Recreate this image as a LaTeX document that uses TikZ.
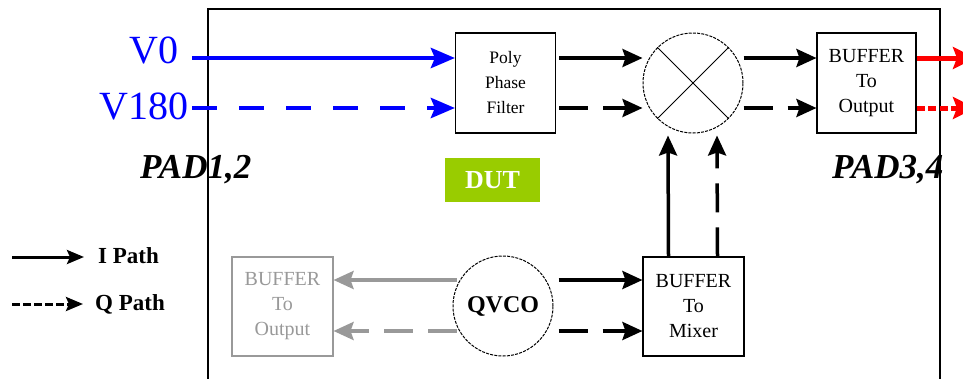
\documentclass[tikz,border=0pt]{standalone}
\usepackage{fontspec}
\setmainfont{Liberation Serif}
\usetikzlibrary{arrows.meta,calc}
\definecolor{dutgreen}{HTML}{99CC00}
\definecolor{grayc}{HTML}{999999}
\tikzset{
  blk/.style={draw, line width=1.1pt, minimum width=100pt, minimum height=100pt, inner sep=0pt, align=center, font=\fontsize{20}{25}\selectfont},
  circ/.style={draw, circle, line width=1pt, dash pattern=on 3pt off 1.2pt, minimum size=100pt, inner sep=0pt},
  tipbig/.style={-{Stealth[length=20pt,width=18pt,inset=3pt]}},
  sig/.style={line width=3.5pt, tipbig},
  qsig/.style={sig, dash pattern=on 29pt off 15pt},
  bsig/.style={line width=4.5pt, blue, -{Stealth[length=24pt,width=20pt,inset=4pt]}},
  bqsig/.style={bsig, dash pattern=on 25pt off 22pt},
  gsig/.style={line width=3.5pt, grayc, tipbig},
  gqsig/.style={gsig, dash pattern=on 29pt off 15pt},
  rsig/.style={line width=5pt, red, -{Stealth[length=22pt,width=22pt,inset=4pt]}},
  rqsig/.style={rsig, dash pattern=on 8pt off 3.5pt},
  lsig/.style={line width=3pt, -{Stealth[length=17pt,width=14pt,inset=3pt]}},
  lqsig/.style={lsig, dash pattern=on 8pt off 3pt},
  padtxt/.style={font=\fontsize{35}{35}\selectfont\bfseries\itshape, inner sep=0pt, anchor=base west},
  vtxt/.style={font=\fontsize{40}{40}\selectfont, text=blue, inner sep=0pt, anchor=east},
  legtxt/.style={font=\fontsize{23}{23}\selectfont\bfseries, inner sep=0pt, anchor=base west},
}
\begin{document}
\begin{tikzpicture}[x=1pt, y=-1pt]
\clip (0,0) rectangle (963,378);
\fill[white] (0,0) rectangle (963,378);
% DUT frame
\draw[line width=1.5pt] (208,380) -- (208,9) -- (940,9) -- (940,380);
% blocks
\node[blk, font=\fontsize{17.5}{25}\selectfont] (ppf) at (505.5,83) {Poly\\Phase\\Filter};
\node[circ] (mix) at (693,83) {};
\draw[line width=0.8pt] (mix.45) -- (mix.225) (mix.135) -- (mix.315);
\node[blk, minimum width=99pt] (bout) at (866.5,83) {BUFFER\\To\\Output};
\node[fill=dutgreen, minimum width=95pt, minimum height=44pt, inner sep=0pt, text=white, font=\fontsize{26}{26}\selectfont\bfseries] (dut) at (492.5,180) {DUT};
\node[circ, font=\fontsize{24}{24}\selectfont\bfseries] (qvco) at (503,306) {QVCO};
\node[blk, minimum width=101pt, minimum height=99pt] (bmix) at (693.5,306.5) {BUFFER\\To\\Mixer};
\node[blk, draw=grayc, text=grayc, minimum width=101pt, minimum height=99pt] (bgray) at (282.5,306.5) {BUFFER\\To\\Output};
% texts
\node[vtxt] (v0) at (179,50) {V0};
\node[vtxt] (v180) at (189,106) {V180};
\node[padtxt] (pad12) at (140,178) {PAD1,2};
\node[padtxt] (pad34) at (832,178) {PAD3,4};
% inputs
\coordinate (v0s) at (192,58);
\coordinate (v180s) at (192,108);
\draw[bsig] (v0s) -- (ppf.west |- v0s);
\draw[bqsig] (v180s) -- (ppf.west |- v180s);
% ppf -> mixer
\draw[sig] ($(ppf.east)+(3,-25)$) -- ($(mix.west)+(0,-25)$);
\draw[qsig] ($(ppf.east)+(3,25)$) -- ($(mix.west)+(0,25)$);
% mixer -> buffer
\draw[sig] ($(mix.east)+(0,-25)$) -- ($(bout.west)+(0,-25)$);
\draw[qsig] ($(mix.east)+(0,25)$) -- ($(bout.west)+(0,25)$);
% outputs
\coordinate (o1) at (975,58);
\coordinate (o2) at (975,108);
\draw[rsig] ($(bout.east)+(0,-25)$) -- (o1);
\draw[rqsig] ($(bout.east)+(0,25)$) -- (o2);
% buffer to mixer -> mixer
\draw[sig] ($(bmix.north)+(-25,0)$) -- ($(mix.south)+(-25,2)$);
\draw[qsig] ($(bmix.north)+(24,0)$) -- ($(mix.south)+(24,2)$);
% qvco -> buffer to mixer
\draw[sig] ($(qvco.east)+(5,-26)$) -- ($(bmix.west)+(0,-26.5)$);
\draw[qsig] ($(qvco.east)+(5,25)$) -- ($(bmix.west)+(0,24.5)$);
% qvco -> gray buffer
\draw[gsig] ($(qvco.west)+(4,-26)$) -- ($(bgray.east)+(0,-26.5)$);
\draw[gqsig] ($(qvco.west)+(4,25)$) -- ($(bgray.east)+(0,24.5)$);
% legend
\node[legtxt] (lI) at (98,263) {I Path};
\node[legtxt] (lQ) at (95,310) {Q Path};
\coordinate (li1) at (12,257);
\coordinate (lq1) at (12,304);
\draw[lsig] (li1) -- ($(lI.west |- li1)+(-14,0)$);
\draw[lqsig] (lq1) -- ($(lQ.west |- lq1)+(-12,0)$);
\end{tikzpicture}
\end{document}
